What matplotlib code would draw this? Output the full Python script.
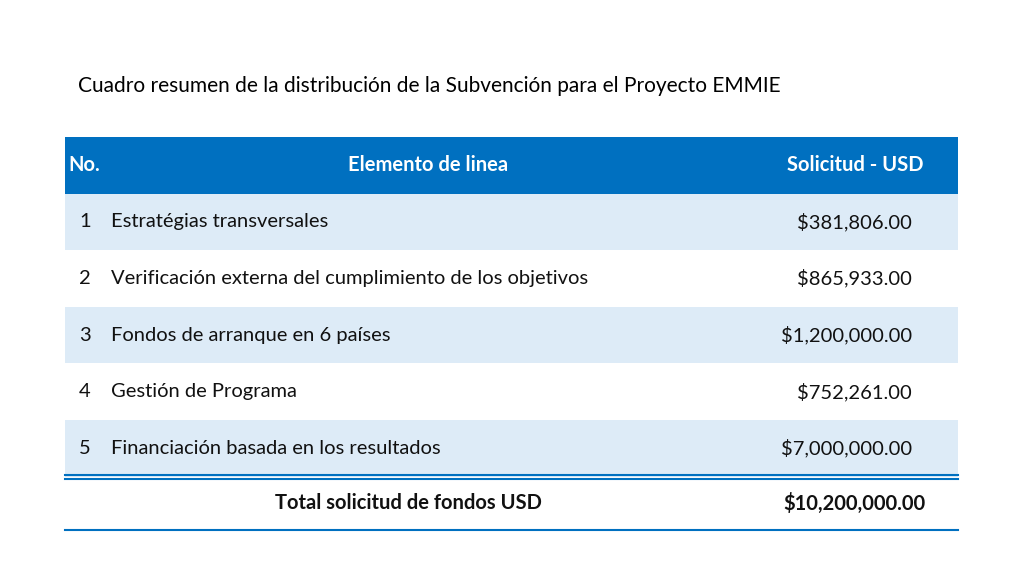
import matplotlib.pyplot as plt
from matplotlib.patches import Rectangle

title = "Cuadro resumen de la distribución de la Subvención para el Proyecto EMMIE"
headers = ["No.", "Elemento de linea", "Solicitud - USD"]
numbers = ["1", "2", "3", "4", "5"]
items = ["Estratégias transversales",
         "Verificación externa del cumplimiento de los objetivos",
         "Fondos de arranque en 6 países",
         "Gestión de Programa",
         "Financiación basada en los resultados"]
amounts = ["$381,806.00", "$865,933.00", "$1,200,000.00", "$752,261.00", "$7,000,000.00"]
total_label = "Total solicitud de fondos USD"
total_amount = "$10,200,000.00"

FONT = "Lato"
BLUE = "#0070C0"
LIGHT = "#DDEBF7"

fig = plt.figure(figsize=(10.24, 5.76), dpi=100)
ax = fig.add_axes([0, 0, 1, 1])
ax.set_xlim(0, 1024)
ax.set_ylim(576, 0)
ax.axis("off")

ax.text(78, 86, title, fontsize=15, family=FONT, va="center", ha="left", color="black")

x0, x1 = 65, 958
top, rh = 137, 56.6
ax.add_patch(Rectangle((x0, top), x1 - x0, rh, color=BLUE, lw=0))
hy = top + rh / 2
ax.text(68, hy, headers[0], fontsize=14.5, family=FONT, weight="bold", color="white", va="center")
ax.text(428, hy, headers[1], fontsize=14.5, family=FONT, weight="bold", color="white", va="center", ha="center")
ax.text(855, hy, headers[2], fontsize=14.5, family=FONT, weight="bold", color="white", va="center", ha="center")

for i, (n, it, am) in enumerate(zip(numbers, items, amounts)):
    y = top + rh * (i + 1)
    if i % 2 == 0:
        ax.add_patch(Rectangle((x0, y), x1 - x0, rh, color=LIGHT, lw=0))
    cy = y + rh / 2
    ax.text(85, cy, n, fontsize=14.5, family=FONT, va="center", ha="center", color="#111111")
    ax.text(111, cy, it, fontsize=14.5, family=FONT, va="center", ha="left", color="#111111")
    ax.text(912, cy, am, fontsize=14.5, family=FONT, va="center", ha="right", color="#111111")

yb = top + rh * 6
ax.plot([x0, x1], [yb - 2, yb - 2], color=BLUE, lw=1.5)
ax.plot([x0, x1], [yb + 2, yb + 2], color=BLUE, lw=1.5)
ax.plot([x0, x1], [530, 530], color=BLUE, lw=1.5)
ty = (yb + 530) / 2
ax.text(408, ty, total_label, fontsize=14.5, family=FONT, weight="bold", va="center", ha="center", color="#111111")
ax.text(925, ty, total_amount, fontsize=14.5, family=FONT, weight="bold", va="center", ha="right", color="#111111")

fig.savefig("out.png", dpi=100, facecolor="white")
